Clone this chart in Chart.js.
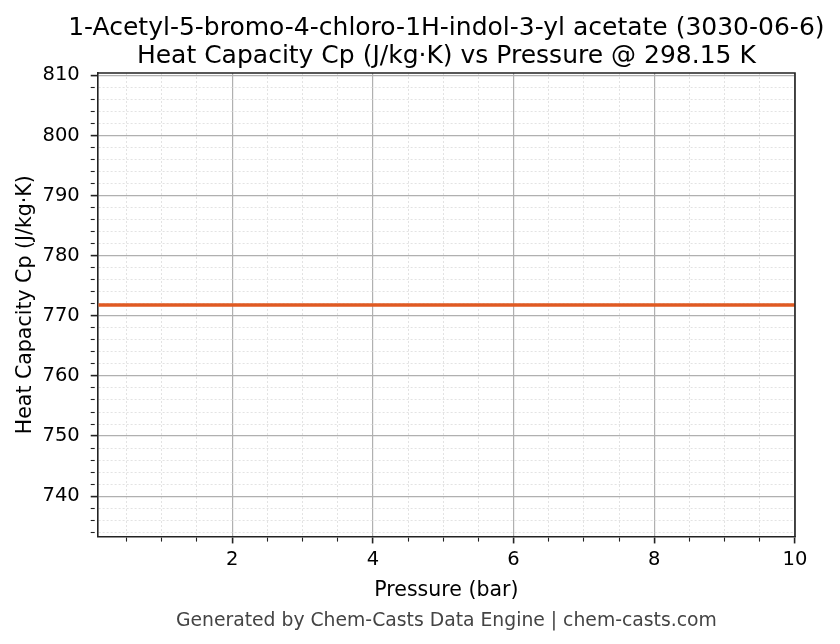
<!DOCTYPE html>
<html>
<head>
<meta charset="utf-8">
<style>
  html, body { margin: 0; padding: 0; background: #ffffff; }
  #wrap { width: 840px; height: 644px; }
  canvas { display: block; }
</style>
<script src="https://cdn.jsdelivr.net/npm/chart.js@4.4.1/dist/chart.umd.min.js"></script>
</head>
<body>
<div id="wrap"><canvas id="c" width="840" height="644"></canvas></div>
<script>
// ---- data ----
const titleLines = [
  "1-Acetyl-5-bromo-4-chloro-1H-indol-3-yl acetate (3030-06-6)",
  "Heat Capacity Cp (J/kg\u00b7K) vs Pressure @ 298.15 K"
];
const xAxisTitle = "Pressure (bar)";
const yAxisTitle = "Heat Capacity Cp (J/kg\u00b7K)";
const footerText = "Generated by Chem-Casts Data Engine | chem-casts.com";

const pressures = [0.1, 1, 2, 3, 4, 5, 6, 7, 8, 9, 10];
const heatCapacity = [771.8, 771.8, 771.8, 771.8, 771.8, 771.8, 771.8, 771.8, 771.8, 771.8, 771.8];

const xLimits = [0.09, 10];
const yLimits = [733.3, 810.4];
const xMajorStep = 2, xMinorStep = 0.5;
const yMajorStep = 10, yMinorStep = 2;

// ---- helpers ----
const FONT = "'DejaVu Sans', 'Liberation Sans', sans-serif";
function isMultiple(v, step) {
  return Math.abs(v / step - Math.round(v / step)) < 1e-6;
}
function majorFor(step) {
  return (ctx) => ctx.tick ? isMultiple(ctx.tick.value, step) : true;
}

const framePlugin = {
  id: 'frame',
  afterLayout(chart) {
    // let the centred title overflow the plot width, like matplotlib does
    const t = chart.titleBlock;
    if (t) {
      const cx = (t.left + t.right) / 2;
      t.left = cx - chart.width / 2;
      t.right = cx + chart.width / 2;
    }
  },
  afterDatasetsDraw(chart) {
    const a = chart.chartArea, c = chart.ctx;
    c.save();
    c.strokeStyle = '#222222';
    c.lineWidth = 1.6;
    c.beginPath();
    c.moveTo(a.left, a.top);
    c.lineTo(a.right, a.top);
    c.lineTo(a.right, a.bottom);
    c.stroke();
    c.restore();
  }
};

function axisOptions(min, max, majorStep, minorStep, position, title, titlePad, titleLH, tickPad) {
  const isMajor = majorFor(majorStep);
  return {
    type: 'linear',
    position: position,
    min: min,
    max: max,
    title: {
      display: true,
      text: title,
      color: '#000000',
      font: { family: FONT, size: 20.5, lineHeight: titleLH },
      padding: titlePad
    },
    ticks: {
      stepSize: minorStep,
      includeBounds: false,
      autoSkip: false,
      maxRotation: 0,
      minRotation: 0,
      padding: tickPad,
      color: '#000000',
      font: { family: FONT, size: 19.5 },
      callback: (v) => isMultiple(v, majorStep) ? String(Math.round(v)) : ''
    },
    grid: {
      drawOnChartArea: true,
      drawTicks: true,
      tickLength: 7,
      color: (ctx) => isMajor(ctx) ? '#b0b0b0' : '#dcdcdc',
      lineWidth: (ctx) => isMajor(ctx) ? 1.2 : 0.8,
      tickColor: '#222222',
      tickWidth: (ctx) => isMajor(ctx) ? 1.6 : 1.1,
      tickBorderDash: (ctx) => isMajor(ctx) ? [] : [4, 40]
    },
    border: {
      display: true,
      color: '#222222',
      width: 1.6,
      dash: (ctx) => (ctx.tick && !isMultiple(ctx.tick.value, majorStep)) ? [2, 2] : []
    }
  };
}

new Chart(document.getElementById('c'), {
  type: 'line',
  data: {
    datasets: [{
      data: pressures.map((p, i) => ({ x: p, y: heatCapacity[i] })),
      borderColor: '#E05A22',
      borderWidth: 3.6,
      pointRadius: 0,
      fill: false,
      tension: 0
    }]
  },
  options: {
    responsive: false,
    devicePixelRatio: 1,
    animation: false,
    layout: { padding: { left: 5, right: 45, top: 0, bottom: 8 } },
    plugins: {
      legend: { display: false },
      tooltip: { enabled: false },
      title: {
        display: true,
        fullSize: false,
        text: titleLines,
        color: '#000000',
        font: { family: FONT, size: 25, weight: 'normal', lineHeight: 1.12 },
        padding: { top: 14, bottom: 3 }
      },
      subtitle: {
        display: true,
        position: 'bottom',
        fullSize: false,
        text: footerText,
        color: '#444444',
        font: { family: FONT, size: 18.8, weight: 'normal' },
        padding: { top: 4, bottom: 4 }
      }
    },
    scales: {
      x: axisOptions(xLimits[0], xLimits[1], xMajorStep, xMinorStep, 'bottom', xAxisTitle, { top: 2, bottom: 2 }, 1.2, 5),
      y: axisOptions(yLimits[0], yLimits[1], yMajorStep, yMinorStep, 'left', yAxisTitle, { top: 10, bottom: -4 }, 1.0, 11)
    }
  },
  plugins: [framePlugin]
});
</script>
</body>
</html>
